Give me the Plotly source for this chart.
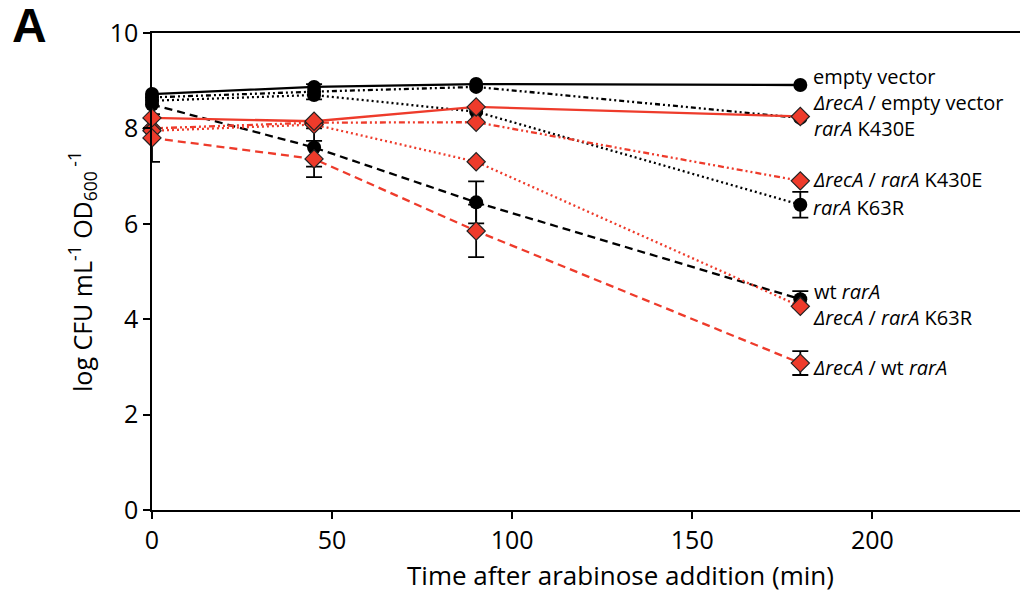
import plotly.graph_objects as go

time = [0, 45, 90, 180]

# series values (log CFU mL-1 OD600-1)
empty_vector = [8.72, 8.87, 8.93, 8.91]
rarA_K430E = [8.65, 8.77, 8.87, 8.22]
rarA_K63R = [8.58, 8.70, 8.35, 6.40]
wt_rarA = [8.50, 7.60, 6.45, 4.42]
recA_empty_vector = [8.22, 8.15, 8.45, 8.25]
recA_rarA_K430E = [8.00, 8.12, 8.13, 6.90]
recA_rarA_K63R = [7.95, 8.08, 7.30, 4.27]
recA_wt_rarA = [7.80, 7.36, 5.85, 3.08]

# error bars (only points that show one)
err_wt_rarA_t = [45, 90, 180]
err_wt_rarA_v = [7.60, 6.45, 4.42]
err_wt_rarA_e = [0.40, 0.44, 0.17]
err_recA_wt_t = [0, 45, 90, 180]
err_recA_wt_v = [7.80, 7.36, 5.85, 3.08]
err_recA_wt_e = [0.50, 0.38, 0.55, 0.25]
err_K63R_t = [180]
err_K63R_v = [6.40]
err_K63R_e = [0.27]
err_K430E_t = [45]
err_K430E_v = [8.77]
err_K430E_e = [0.16]

# end labels (stacked pairs share one text block)
labels = [
    ("empty vector", 9.08),
    ("<i>ΔrecA</i> / empty vector<br><i>rarA</i> K430E", 8.27),
    ("<i>ΔrecA</i> / <i>rarA</i> K430E", 6.92),
    ("<i>rarA</i> K63R", 6.35),
    ("wt <i>rarA</i><br><i>ΔrecA</i> / <i>rarA</i> K63R", 4.30),
    ("<i>ΔrecA</i> / wt <i>rarA</i>", 2.98),
]

RED = "#ee3b2b"
FONT = "Open Sans"

fig = go.Figure()

# error bars
for t, v, e in [(err_wt_rarA_t, err_wt_rarA_v, err_wt_rarA_e),
                (err_recA_wt_t, err_recA_wt_v, err_recA_wt_e),
                (err_K63R_t, err_K63R_v, err_K63R_e),
                (err_K430E_t, err_K430E_v, err_K430E_e)]:
    fig.add_trace(go.Scatter(
        x=t, y=v, mode="markers", marker=dict(size=1, opacity=0),
        error_y=dict(type="data", array=e, visible=True, color="black",
                     thickness=1.8, width=8),
        showlegend=False, hoverinfo="skip", cliponaxis=False))

black_series = [
    (rarA_K430E, "5px,3px,2px,3px,2px,3px"),
    (rarA_K63R, "2px,3px"),
    (wt_rarA, "8px,5px"),
    (empty_vector, "solid"),
]
red_series = [
    (recA_rarA_K430E, "6px,3px,2px,3px,2px,3px"),
    (recA_rarA_K63R, "2px,3px"),
    (recA_wt_rarA, "8px,5px"),
    (recA_empty_vector, "solid"),
]

for vals, dash in black_series:
    fig.add_trace(go.Scatter(
        x=time, y=vals, mode="lines+markers",
        line=dict(color="black", width=2.3, dash=dash),
        marker=dict(symbol="circle", size=14, color="black"),
        showlegend=False, cliponaxis=False))

for vals, dash in red_series:
    fig.add_trace(go.Scatter(
        x=time, y=vals, mode="lines+markers",
        line=dict(color=RED, width=2.3, dash=dash),
        marker=dict(symbol="diamond", size=14, color=RED,
                    line=dict(color="#222", width=1.2)),
        showlegend=False, cliponaxis=False))

for text, y in labels:
    fig.add_annotation(x=183, y=y, text=text, showarrow=False,
                       xanchor="left", yanchor="middle", align="left",
                       font=dict(family=FONT, size=20, color="black"))

# x-axis title
fig.add_annotation(xref="paper", yref="paper", x=(620 - 152) / (1020 - 152),
                   y=-0.095, yanchor="top", text="Time after arabinose addition (min)",
                   showarrow=False, font=dict(family=FONT, size=26, color="black"))
# panel letter
fig.add_annotation(xref="paper", yref="paper", x=(10 - 152) / (1020 - 152), y=1.075,
                   xanchor="left", yanchor="top", text="<b>A</b>", showarrow=False,
                   font=dict(family="Liberation Sans", size=48, color="black"))

fig.update_layout(
    width=1023, height=594,
    margin=dict(l=152, r=3, t=33, b=84),
    paper_bgcolor="white", plot_bgcolor="white",
    font=dict(family=FONT, color="black"),
    xaxis=dict(range=[0, 241], tickvals=[0, 50, 100, 150, 200],
               showline=True, linecolor="black", linewidth=1.5, mirror=True,
               ticks="outside", ticklen=7, tickwidth=1.5, tickcolor="black",
               showgrid=False, zeroline=False,
               tickfont=dict(family=FONT, size=25)),
    yaxis=dict(range=[0, 10], tickvals=[0, 2, 4, 6, 8, 10],
               showline=True, linecolor="black", linewidth=1.5,
               ticks="outside", ticklen=7, tickwidth=1.5, tickcolor="black",
               showgrid=False, zeroline=False,
               tickfont=dict(family=FONT, size=25),
               title=dict(text="log CFU mL<sup>-1</sup> OD<sub>600</sub><sup> -1</sup>",
                          font=dict(family=FONT, size=25), standoff=10)),
)

fig.write_html("out.html")
